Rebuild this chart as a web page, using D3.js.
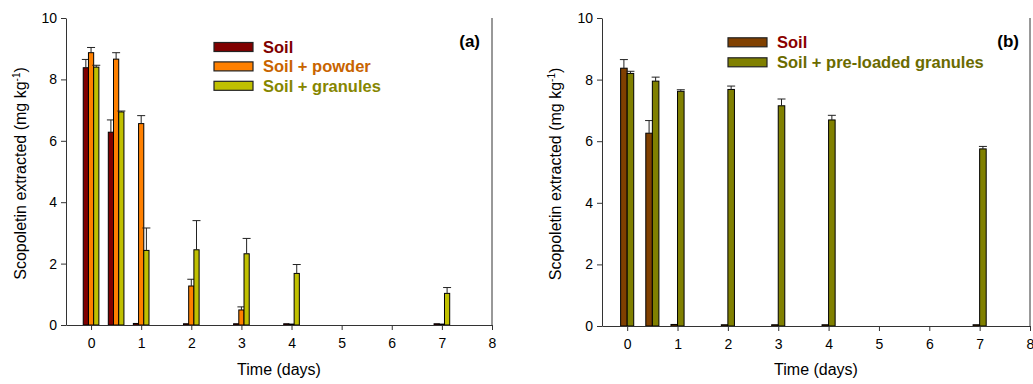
<!DOCTYPE html>
<html>
<head>
<meta charset="utf-8">
<script src="https://cdn.jsdelivr.net/npm/d3@7"></script>
<style>
  body { margin: 0; background: #fff; }
  text { font-family: "Liberation Sans", Arial, sans-serif; }
</style>
</head>
<body>
<div class="chart"></div>
<script>
// sampling days (0.5 = 12 h)
const days = [0, 0.5, 1, 2, 3, 4, 7];
const xTicks = [0, 1, 2, 3, 4, 5, 6, 7, 8];
const yTicks = [0, 2, 4, 6, 8, 10];

// panel (a)
const soilA = [8.38, 6.28, 0.05, 0.04, 0.04, 0.04, 0.04];
const soilAErr = [0.27, 0.40, 0, 0, 0, 0, 0];
const powderA = [8.87, 8.66, 6.56, 1.27, 0.49, 0.03, 0.03];
const powderAErr = [0.17, 0.21, 0.26, 0.22, 0.10, 0, 0];
const granA = [8.40, 6.94, 2.43, 2.45, 2.32, 1.68, 1.03];
const granAErr = [0.06, 0.03, 0.73, 0.95, 0.50, 0.29, 0.19];

// panel (b)
const soilB = [8.37, 6.26, 0.05, 0.04, 0.04, 0.04, 0.04];
const soilBErr = [0.28, 0.41, 0, 0, 0, 0, 0];
const loadedB = [8.20, 7.95, 7.62, 7.68, 7.15, 6.69, 5.75];
const loadedBErr = [0.07, 0.13, 0.05, 0.11, 0.22, 0.15, 0.08];

const svg = d3.select('.chart').append('svg')
  .attr('width', 1033)
  .attr('height', 384);

function drawPanel(p) {
  const x = d3.scaleLinear().domain([-0.5, 8]).range([p.left, p.right]);
  const y = d3.scaleLinear().domain([0, 10]).range([p.bottom, p.top]);
  const g = svg.append('g');

  // bars + upper error bars
  p.series.forEach((s, si) => {
    const off = (si - (p.series.length - 1) / 2) * p.barW;
    const bw = x(p.barW) - x(0);
    const sg = g.append('g');
    sg.selectAll('rect')
      .data(s.values)
      .enter()
      .append('rect')
      .attr('x', (d, i) => x(days[i] + off) - bw / 2)
      .attr('y', d => y(d))
      .attr('width', bw)
      .attr('height', d => y(0) - y(d))
      .style('fill', s.color)
      .style('stroke', '#000')
      .style('stroke-width', 1);

    const eb = sg.selectAll('.err')
      .data(s.values.map((v, i) => ({ v: v, e: s.err[i], i: i })).filter(d => d.e > 0))
      .enter()
      .append('g')
      .attr('class', 'err');
    eb.append('line')
      .attr('x1', d => x(days[d.i] + off))
      .attr('x2', d => x(days[d.i] + off))
      .attr('y1', d => y(d.v))
      .attr('y2', d => y(d.v + d.e))
      .style('stroke', '#222');
    eb.append('line')
      .attr('x1', d => x(days[d.i] + off) - 4)
      .attr('x2', d => x(days[d.i] + off) + 4)
      .attr('y1', d => y(d.v + d.e))
      .attr('y2', d => y(d.v + d.e))
      .style('stroke', '#222');
  });

  // axes
  const xAxis = g.append('g')
    .attr('transform', `translate(0, ${p.bottom})`)
    .call(d3.axisBottom(x).tickValues(xTicks).tickSize(5).tickSizeOuter(0));
  const yAxis = g.append('g')
    .attr('transform', `translate(${p.left}, 0)`)
    .call(d3.axisLeft(y).tickValues(yTicks).tickSize(5).tickSizeOuter(0));
  [xAxis, yAxis].forEach(a => {
    a.selectAll('path, line').style('stroke', '#333');
    a.selectAll('text').style('font-size', '14px').style('fill', '#000')
      .style('font-family', '"Liberation Sans", Arial, sans-serif');
  });
  xAxis.selectAll('text').attr('dy', '1.05em');
  yAxis.selectAll('text').attr('x', -9);

  // right frame line
  g.append('line')
    .attr('x1', p.right).attr('x2', p.right)
    .attr('y1', p.top).attr('y2', p.bottom)
    .style('stroke', '#333');

  // axis titles
  g.append('text')
    .attr('x', (p.left + p.right) / 2)
    .attr('y', 375)
    .attr('text-anchor', 'middle')
    .style('font-size', '16px')
    .text('Time (days)');

  const yl = g.append('text')
    .attr('transform', `translate(${p.yLabelX}, ${(p.top + p.bottom) / 2 + 2}) rotate(-90)`)
    .attr('text-anchor', 'middle')
    .style('font-size', '16px');
  yl.append('tspan').text('Scopoletin extracted (mg kg');
  yl.append('tspan').attr('dy', -6).style('font-size', '10px').text('-1');
  yl.append('tspan').attr('dy', 6).text(')');

  // panel tag
  g.append('text')
    .attr('x', p.tagX)
    .attr('y', 47)
    .attr('text-anchor', 'end')
    .style('font-size', '17px')
    .style('font-weight', 'bold')
    .text(p.tag);

  // legend
  const lg = g.append('g');
  p.series.forEach((s, si) => {
    const cy = p.legendY + si * p.legendStep;
    lg.append('rect')
      .attr('x', p.legendX)
      .attr('y', cy - 4.5)
      .attr('width', 39)
      .attr('height', 9)
      .style('fill', s.color)
      .style('stroke', '#222')
      .style('stroke-width', 1.2);
    lg.append('text')
      .attr('x', p.legendX + 49)
      .attr('y', cy + 6)
      .style('font-size', '16.5px')
      .style('font-weight', 'bold')
      .style('fill', s.textColor)
      .text(s.name);
  });
}

drawPanel({
  left: 66, right: 492, top: 18, bottom: 325,
  barW: 0.104, yLabelX: 26, tag: '(a)', tagX: 480,
  legendX: 214, legendY: 47, legendStep: 19.4,
  series: [
    { name: 'Soil', values: soilA, err: soilAErr, color: '#800000', textColor: '#800000' },
    { name: 'Soil + powder', values: powderA, err: powderAErr, color: '#FF8000', textColor: '#C86400' },
    { name: 'Soil + granules', values: granA, err: granAErr, color: '#C0C000', textColor: '#868600' }
  ]
});

drawPanel({
  left: 602, right: 1030, top: 18, bottom: 326,
  barW: 0.13, yLabelX: 561, tag: '(b)', tagX: 1019,
  legendX: 728, legendY: 42.3, legendStep: 20,
  series: [
    { name: 'Soil', values: soilB, err: soilBErr, color: '#804000', textColor: '#8B0000' },
    { name: 'Soil + pre-loaded granules', values: loadedB, err: loadedBErr, color: '#808000', textColor: '#6B6B00' }
  ]
});
</script>
</body>
</html>
